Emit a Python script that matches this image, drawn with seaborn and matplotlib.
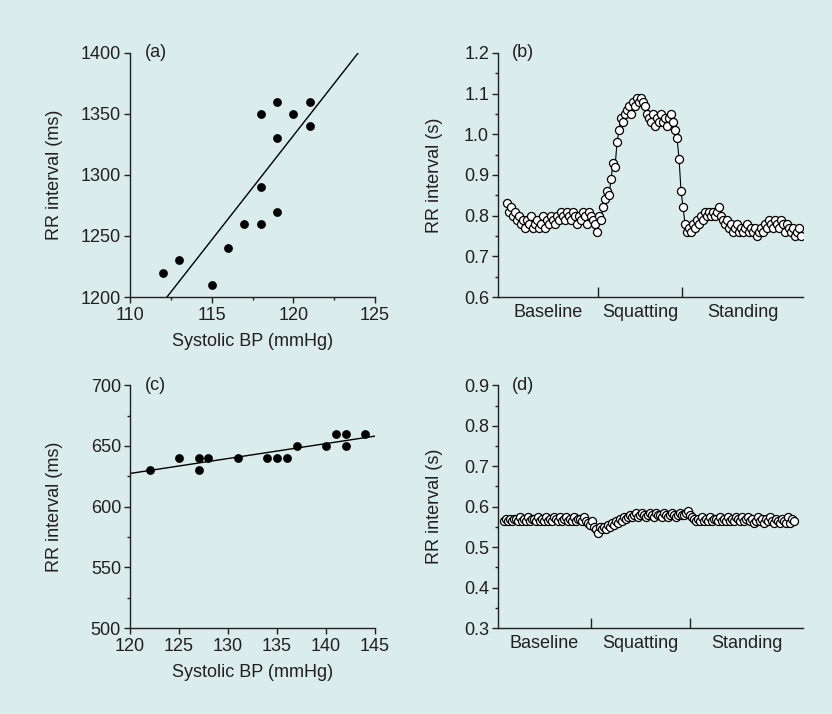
import numpy as np
import seaborn as sns
import matplotlib.pyplot as plt
from matplotlib.ticker import MultipleLocator, FormatStrFormatter

# (a) systolic BP vs RR interval, subject 1
sbp_a = [112, 113, 115, 116, 117, 118, 118, 118, 119, 119, 119, 120, 121, 121]
rr_a = [1220, 1230, 1210, 1240, 1260, 1260, 1290, 1350, 1270, 1330, 1360, 1350, 1360, 1340]

# (c) systolic BP vs RR interval, subject 2
sbp_c = [122, 125, 127, 127, 128, 131, 134, 135, 136, 137, 140, 141, 142, 142, 144]
rr_c = [630, 640, 640, 630, 640, 640, 640, 640, 640, 650, 650, 660, 660, 650, 660]

# (b) beat-by-beat RR interval (s)
rr_b = [0.83, 0.81, 0.82, 0.80, 0.81, 0.79, 0.80, 0.78, 0.79, 0.77,
        0.79, 0.78, 0.80, 0.77, 0.78, 0.79, 0.77, 0.78, 0.80, 0.77,
        0.79, 0.78, 0.80, 0.79, 0.78, 0.80, 0.79, 0.81, 0.80, 0.79,
        0.81, 0.80, 0.79, 0.81, 0.80, 0.78, 0.80, 0.79, 0.81, 0.80,
        0.78, 0.81, 0.80, 0.79, 0.78, 0.76, 0.80, 0.79, 0.82, 0.84,
        0.86, 0.85, 0.89, 0.93, 0.92, 0.98, 1.01, 1.04, 1.03, 1.05,
        1.06, 1.07, 1.05, 1.08, 1.07, 1.09, 1.08, 1.09, 1.08, 1.07,
        1.05, 1.04, 1.03, 1.05, 1.02, 1.04, 1.03, 1.05, 1.03, 1.04,
        1.02, 1.04, 1.05, 1.03, 1.01, 0.99, 0.94, 0.86, 0.82, 0.78,
        0.76, 0.77, 0.76, 0.78, 0.77, 0.79, 0.78, 0.80, 0.79, 0.81,
        0.80, 0.81, 0.80, 0.81, 0.80, 0.81, 0.82, 0.80, 0.79, 0.78,
        0.79, 0.77, 0.78, 0.76, 0.77, 0.78, 0.76, 0.77, 0.76, 0.77,
        0.78, 0.76, 0.77, 0.76, 0.77, 0.75, 0.76, 0.77, 0.76, 0.78,
        0.77, 0.79, 0.78, 0.77, 0.79, 0.78, 0.77, 0.79, 0.78, 0.76,
        0.78, 0.77, 0.76, 0.77, 0.75, 0.76, 0.77, 0.75]

# (d) beat-by-beat RR interval (s)
rr_d = [0.565, 0.57, 0.565, 0.57, 0.565, 0.57, 0.57, 0.565, 0.575, 0.565,
        0.57, 0.565, 0.575, 0.565, 0.57, 0.57, 0.565, 0.575, 0.565, 0.57,
        0.565, 0.575, 0.565, 0.57, 0.565, 0.575, 0.57, 0.565, 0.575, 0.565,
        0.57, 0.575, 0.565, 0.57, 0.565, 0.575, 0.565, 0.57, 0.57, 0.565,
        0.575, 0.565, 0.56, 0.555, 0.565, 0.55, 0.545, 0.535, 0.55, 0.545,
        0.55, 0.545, 0.555, 0.55, 0.56, 0.555, 0.565, 0.56, 0.57, 0.565,
        0.575, 0.57, 0.575, 0.58, 0.575, 0.58, 0.585, 0.575, 0.58, 0.585,
        0.58, 0.575, 0.58, 0.585, 0.58, 0.575, 0.585, 0.58, 0.58, 0.575,
        0.585, 0.58, 0.575, 0.58, 0.585, 0.58, 0.575, 0.58, 0.585, 0.58,
        0.58, 0.585, 0.59, 0.58, 0.575, 0.57, 0.565, 0.57, 0.565, 0.575,
        0.565, 0.57, 0.565, 0.575, 0.565, 0.57, 0.57, 0.565, 0.575, 0.565,
        0.57, 0.565, 0.575, 0.565, 0.57, 0.565, 0.575, 0.57, 0.565, 0.575,
        0.565, 0.57, 0.575, 0.565, 0.57, 0.56, 0.565, 0.575, 0.565, 0.57,
        0.56, 0.57, 0.565, 0.575, 0.565, 0.56, 0.57, 0.565, 0.56, 0.57,
        0.565, 0.56, 0.575, 0.56, 0.57, 0.565]

phases = ['Baseline', 'Squatting', 'Standing']
bounds_b = [45.5, 87.5]   # beat index where the manoeuvre changes
bounds_d = [43.5, 93.0]

bg = '#daecec'
ink = '#231f20'

sns.set_style('ticks')
plt.rcParams['font.family'] = ['Liberation Sans', 'DejaVu Sans']
plt.rcParams.update({
    'font.size': 13,
    'text.color': ink,
    'axes.labelcolor': ink,
    'axes.edgecolor': ink,
    'axes.linewidth': 1.0,
    'xtick.color': ink,
    'ytick.color': ink,
    'xtick.labelsize': 13,
    'ytick.labelsize': 13,
    'xtick.direction': 'out',
    'ytick.direction': 'out',
    'xtick.major.size': 4,
    'ytick.major.size': 4,
    'xtick.minor.size': 2.5,
    'ytick.minor.size': 2.5,
    'xtick.major.width': 1.0,
    'ytick.major.width': 1.0,
    'xtick.minor.width': 1.0,
    'ytick.minor.width': 1.0,
    'ytick.major.pad': 2.5,
})

fig = plt.figure(figsize=(8.32, 7.14), dpi=100, facecolor=bg)
ax_a = fig.add_axes([0.1563, 0.584, 0.2945, 0.342])
ax_b = fig.add_axes([0.5986, 0.584, 0.3666, 0.342])
ax_c = fig.add_axes([0.1563, 0.1204, 0.2945, 0.340])
ax_d = fig.add_axes([0.5986, 0.1204, 0.3666, 0.340])


def scatter_panel(ax, x, y, xlim, ylim, xmajor, xminor, ymajor, yminor, tag):
    ax.set_facecolor(bg)
    ax.set_xlim(*xlim)
    ax.set_ylim(*ylim)
    sns.regplot(x=x, y=y, ax=ax, ci=None, truncate=False, color='black',
                scatter_kws=dict(s=40, linewidths=0, alpha=1),
                line_kws=dict(lw=1.0, color='black'))
    ax.set_xlim(*xlim)
    ax.set_ylim(*ylim)
    ax.xaxis.set_major_locator(MultipleLocator(xmajor))
    ax.yaxis.set_major_locator(MultipleLocator(ymajor))
    if xminor:
        ax.xaxis.set_minor_locator(MultipleLocator(xminor))
    if yminor:
        ax.yaxis.set_minor_locator(MultipleLocator(yminor))
    ax.set_xlabel('Systolic BP (mmHg)', labelpad=6)
    ax.set_ylabel('RR interval (ms)')
    ax.yaxis.set_label_coords(-0.273, 0.5)
    ax.text(0.06, 1.0, tag, transform=ax.transAxes, ha='left', va='center', fontsize=13)
    sns.despine(ax=ax)


def series_panel(ax, rr, bounds, xlim, ylim, tag):
    ax.set_facecolor(bg)
    beats = np.arange(len(rr))
    sns.lineplot(x=beats, y=rr, ax=ax, color='black', lw=0.8, sort=False,
                 estimator=None, marker='o', markersize=5.8,
                 markerfacecolor='white', markeredgecolor='black',
                 markeredgewidth=0.9)
    ax.set_xlim(*xlim)
    ax.set_ylim(*ylim)
    ax.yaxis.set_major_locator(MultipleLocator(0.1))
    ax.yaxis.set_minor_locator(MultipleLocator(0.05))
    ax.yaxis.set_major_formatter(FormatStrFormatter('%.1f'))
    edges = [xlim[0]] + list(bounds) + [xlim[1]]
    centers = [(edges[i] + edges[i + 1]) / 2 for i in range(3)]
    ax.set_xticks(bounds)
    ax.set_xticklabels([])
    ax.set_xticks(centers, minor=True)
    ax.set_xticklabels(phases, minor=True)
    ax.tick_params(axis='x', which='major', direction='in', length=7)
    ax.tick_params(axis='x', which='minor', length=0, pad=5)
    ax.set_xlabel('')
    ax.set_ylabel('RR interval (s)')
    ax.yaxis.set_label_coords(-0.180, 0.5)
    ax.text(0.046, 1.0, tag, transform=ax.transAxes, ha='left', va='center', fontsize=13)
    sns.despine(ax=ax)


scatter_panel(ax_a, sbp_a, rr_a, (110, 125), (1200, 1400), 5, 2.5, 50, None, '(a)')
scatter_panel(ax_c, sbp_c, rr_c, (120, 145), (500, 700), 5, None, 50, 25, '(c)')
series_panel(ax_b, rr_b, bounds_b, (-4.5, 148), (0.6, 1.2), '(b)')
series_panel(ax_d, rr_d, bounds_d, (-3, 149.5), (0.3, 0.9), '(d)')

fig.savefig('out.png', dpi=100, facecolor=bg)
